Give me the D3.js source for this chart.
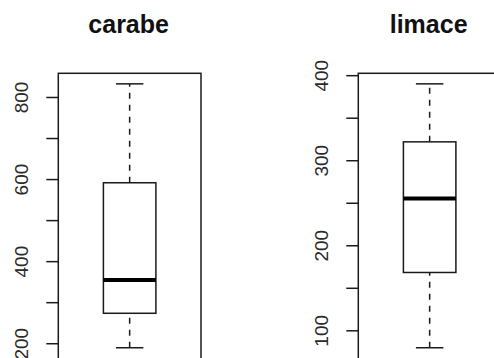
<!DOCTYPE html>
<html>
<head>
<meta charset="utf-8">
<script src="https://cdn.jsdelivr.net/npm/d3@7"></script>
<style>
  html, body { margin: 0; padding: 0; background: #fff; }
  svg { display: block; }
</style>
</head>
<body>
<svg id="chart" width="494" height="358"></svg>
<script>
// Five-number summaries: lower whisker, Q1, median, Q3, upper whisker
const panelNames = ["carabe", "limace"];
const carabeStats = [189, 273, 354, 591, 832];
const limaceStats = [79.5, 168, 255, 321.6, 389.8];
const carabeTicks = [200, 300, 400, 500, 600, 700, 800];
const limaceTicks = [100, 150, 200, 250, 300, 350, 400];
const carabeTickLabels = ["200", "", "400", "", "600", "", "800"];
const limaceTickLabels = ["100", "", "200", "", "300", "", "400"];

const panels = [
  { name: panelNames[0], stats: carabeStats, ticks: carabeTicks, labels: carabeTickLabels, x0: 58.3, x1: 201 },
  { name: panelNames[1], stats: limaceStats, ticks: limaceTicks, labels: limaceTickLabels, x0: 358.3, x1: 501 }
];

const svg = d3.select("#chart");
const plotTop = 73.3, plotBottom = 358.3;
const ink = "#1a1a1a";

panels.forEach(p => {
  const lo = d3.min(p.stats), hi = d3.max(p.stats);
  const pad = (hi - lo) * 0.04;
  const y = d3.scaleLinear().domain([lo - pad, hi + pad]).range([plotBottom, plotTop]);
  const x = d3.scaleLinear().domain([0.5, 1.5]).range([p.x0, p.x1]);
  const g = svg.append("g");

  // plot frame
  g.append("rect")
    .attr("x", p.x0).attr("y", plotTop)
    .attr("width", p.x1 - p.x0).attr("height", plotBottom - plotTop + 2)
    .attr("fill", "none").attr("stroke", ink).attr("stroke-width", 1.5);

  // y axis
  const axis = d3.axisLeft(y).tickValues(p.ticks).tickSize(12)
    .tickFormat((d, i) => p.labels[i]);
  const ax = g.append("g").attr("transform", `translate(${p.x0},0)`).call(axis);
  ax.select(".domain").remove();
  ax.selectAll(".tick line").attr("stroke", ink).attr("stroke-width", 1.5);
  ax.selectAll(".tick text")
    .attr("x", null).attr("dy", null)
    .attr("transform", "translate(-30.5,0) rotate(-90)")
    .attr("text-anchor", "middle")
    .attr("font-family", "Liberation Sans, Arial, sans-serif")
    .attr("font-size", 19)
    .attr("fill", "#2a2a2a");

  // box
  const [wLo, q1, med, q3, wHi] = p.stats;
  const cx = x(1), bw = 52.5, cw = 27.5;
  g.selectAll(".whisker").data([[wLo, q1], [q3, wHi]]).enter().append("line")
    .attr("x1", cx).attr("x2", cx)
    .attr("y1", d => y(d[0])).attr("y2", d => y(d[1]))
    .attr("stroke", ink).attr("stroke-width", 1.5)
    .attr("stroke-dasharray", "6,6");
  g.selectAll(".cap").data([wLo, wHi]).enter().append("line")
    .attr("x1", cx - cw / 2).attr("x2", cx + cw / 2)
    .attr("y1", d => y(d)).attr("y2", d => y(d))
    .attr("stroke", ink).attr("stroke-width", 1.5);
  g.append("rect")
    .attr("x", cx - bw / 2).attr("y", y(q3))
    .attr("width", bw).attr("height", y(q1) - y(q3))
    .attr("fill", "#fff").attr("stroke", ink).attr("stroke-width", 1.5);
  g.append("line")
    .attr("x1", cx - bw / 2).attr("x2", cx + bw / 2)
    .attr("y1", y(med)).attr("y2", y(med))
    .attr("stroke", "#000").attr("stroke-width", 4);

  // title
  svg.append("text")
    .attr("x", (p.x0 + p.x1) / 2 - 1).attr("y", 33)
    .attr("text-anchor", "middle")
    .attr("font-family", "Liberation Sans, Arial, sans-serif")
    .attr("font-weight", "bold")
    .attr("font-size", 25)
    .attr("fill", "#111")
    .text(p.name);
});
</script>
</body>
</html>
